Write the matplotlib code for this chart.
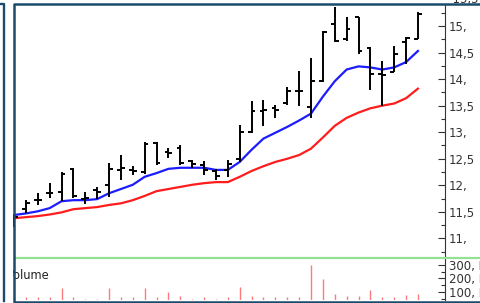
import matplotlib
matplotlib.use("Agg")
import matplotlib.pyplot as plt
from matplotlib.lines import Line2D
from matplotlib.ticker import FixedLocator, FixedFormatter, MultipleLocator

# daily OHLC
opens = [11.35, 11.55, 11.72, 11.85, 11.87, 12.30, 11.74, 11.92, 12.00, 12.28,
         12.28, 12.25, 12.80, 12.62, 12.70, 12.45, 12.38, 12.27, 12.28, 12.50,
         13.00, 13.40, 13.45, 13.55, 13.78, 13.48, 13.96, 15.04, 14.75, 15.17,
         14.58, 14.10, 14.13, 14.70, 14.75]
highs = [11.45, 11.72, 11.85, 12.04, 12.25, 12.33, 11.88, 11.97, 12.42, 12.58,
         12.36, 12.82, 12.82, 12.70, 12.76, 12.48, 12.45, 12.30, 12.48, 13.14,
         13.58, 13.60, 13.52, 13.86, 14.15, 14.40, 14.90, 15.36, 15.17, 15.17,
         14.60, 14.34, 14.62, 14.79, 15.26]
lows = [11.22, 11.47, 11.62, 11.76, 11.70, 11.76, 11.64, 11.74, 11.78, 12.10,
        12.20, 12.22, 12.38, 12.52, 12.38, 12.33, 12.20, 12.10, 12.16, 12.44,
        12.99, 13.12, 13.26, 13.52, 13.50, 13.26, 13.94, 14.70, 14.72, 14.47,
        13.80, 13.50, 14.13, 14.28, 14.75]
closes = [11.40, 11.67, 11.73, 11.86, 12.22, 11.80, 11.76, 11.88, 12.30, 12.32,
          12.27, 12.78, 12.42, 12.60, 12.42, 12.40, 12.28, 12.18, 12.40, 13.00,
          13.40, 13.42, 13.42, 13.78, 13.78, 13.96, 14.88, 14.72, 14.95, 14.53,
          14.09, 14.08, 14.47, 14.77, 15.23]

# moving averages as drawn
ma_fast = [11.44, 11.47, 11.51, 11.57, 11.70, 11.72, 11.72, 11.74, 11.85, 11.93,
           12.01, 12.16, 12.23, 12.31, 12.33, 12.33, 12.33, 12.29, 12.29, 12.44,
           12.67, 12.88, 12.99, 13.10, 13.22, 13.35, 13.67, 13.96, 14.18, 14.24,
           14.22, 14.18, 14.22, 14.32, 14.53]
ma_slow = [11.38, 11.40, 11.42, 11.45, 11.49, 11.55, 11.57, 11.59, 11.63, 11.66,
           11.72, 11.80, 11.89, 11.93, 11.97, 12.01, 12.04, 12.06, 12.06, 12.16,
           12.27, 12.36, 12.44, 12.50, 12.57, 12.69, 12.90, 13.12, 13.27, 13.37,
           13.45, 13.50, 13.54, 13.64, 13.82]

volume = [60, 65, 65, 65, 130, 65, 45, 45, 130, 65,
          65, 128, 65, 100, 70, 45, 63, 45, 65, 135,
          70, 65, 63, 65, 65, 300, 195, 88, 70, 70,
          115, 65, 65, 75, 85]

price_ticks = [11, 11.5, 12, 12.5, 13, 13.5, 14, 14.5, 15]
price_labels = ["11,", "11,5", "12,", "12,5", "13,", "13,5", "14,", "14,5", "15,"]
vol_ticks = [100, 200, 300]
vol_labels = ["100, M", "200, M", "300, M"]

W, H = 481, 303
fig = plt.figure(figsize=(W / 100, H / 100), dpi=100)
fig.patch.set_facecolor("white")


def fx(x):
    return x / W


def fy(y):
    return 1 - y / H


x = list(range(len(closes)))
step = 11.88  # px per bar
ax_l, ax_r = 13, 445
xlim = ((ax_l - 14) / step, (ax_r - 14) / step)

ax = fig.add_axes([fx(ax_l), fy(257), fx(ax_r - ax_l), (257 - 5) / H])
ax.set_xlim(*xlim)
ax.set_ylim(15 - (257 - 26) / 53.1, 15 + (26 - 5) / 53.1)

ax.plot(x, ma_slow, color="#ff1c1c", lw=1.6, zorder=2)
ax.plot(x, ma_fast, color="#1c1cff", lw=1.6, zorder=2)

tw = 0.32
ax.vlines(x, lows, highs, color="black", lw=1.4, zorder=3)
ax.hlines(opens, [i - tw for i in x], x, color="black", lw=1.4, zorder=3)
ax.hlines(closes, x, [i + tw for i in x], color="black", lw=1.4, zorder=3)

for a in ["top", "left", "bottom"]:
    ax.spines[a].set_visible(False)
ax.spines["right"].set_color("#333333")
ax.spines["right"].set_linewidth(0.8)
ax.set_xticks([])
ax.yaxis.tick_right()
ax.yaxis.set_major_locator(FixedLocator(price_ticks))
ax.yaxis.set_major_formatter(FixedFormatter(price_labels))
ax.yaxis.set_minor_locator(MultipleLocator(0.25))
ax.tick_params(axis="y", which="major", direction="in", length=5, width=0.8,
               pad=3, labelsize=8.5, colors="#333333")
ax.tick_params(axis="y", which="minor", direction="in", length=3, width=0.8,
               colors="#333333")
# top label is cut by the frame
ax.text(1.0, 15.5, "  15,5", transform=ax.get_yaxis_transform(), fontsize=8.5,
        color="#333333", va="center", ha="left", clip_on=False)

# volume panel
vax = fig.add_axes([fx(ax_l), fy(300), fx(ax_r - ax_l), (300 - 259) / H])
vax.set_xlim(*xlim)
vax.set_ylim(40, 344)
vax.vlines(x, 0, volume, color="#ff7a7a", lw=1.0)
for a in ["top", "left", "bottom"]:
    vax.spines[a].set_visible(False)
vax.spines["right"].set_color("#333333")
vax.spines["right"].set_linewidth(0.8)
vax.set_xticks([])
vax.yaxis.tick_right()
vax.yaxis.set_major_locator(FixedLocator(vol_ticks))
vax.yaxis.set_major_formatter(FixedFormatter(vol_labels))
vax.yaxis.set_minor_locator(MultipleLocator(50))
vax.tick_params(axis="y", which="major", direction="in", length=5, width=0.8,
                pad=3, labelsize=8.5, colors="#333333")
vax.tick_params(axis="y", which="minor", direction="in", length=3, width=0.8,
                colors="#333333")
for lab in vax.get_yticklabels():
    lab.set_linespacing(0.8)
t = vax.text(-0.014, 0.6, "Volume", transform=vax.transAxes, fontsize=8.3,
             color="#222222", va="center", ha="left", clip_on=True)
t.set_clip_path(vax.patch)

# separator and frame
frame = "#1b4b6b"
fig.add_artist(Line2D([fx(15), 1], [fy(257.7)] * 2, color="#93e293", lw=1.6, zorder=5))
fig.add_artist(Line2D([fx(0), fx(4), fx(4)], [fy(4), fy(4), fy(301)], color=frame,
                      lw=1.7, zorder=10))
fig.add_artist(Line2D([1, fx(13.8), fx(13.8), 1], [fy(4.3), fy(4.3), fy(301.5), fy(301.5)],
                      color=frame, lw=1.8, zorder=10))

fig.savefig("out.png", dpi=100)
